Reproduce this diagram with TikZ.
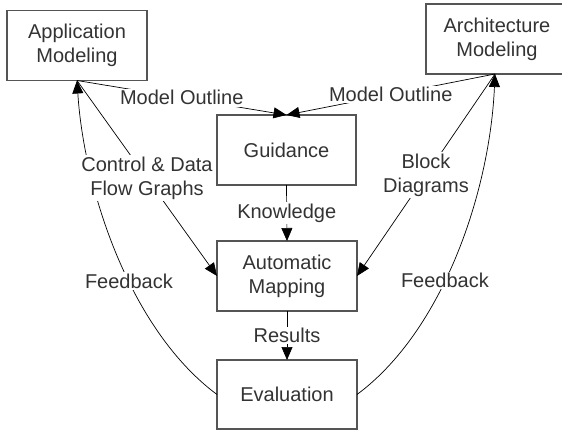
\documentclass[tikz,border=0pt]{standalone}
\usepackage{fontspec}
\setmainfont{Liberation Sans}
\usetikzlibrary{arrows.meta}
\definecolor{txt}{HTML}{333333}
\definecolor{boxline}{HTML}{555555}
\tikzset{
  box/.style={draw=boxline, line width=1.1pt, fill=white, text=txt, align=center,
    inner sep=0pt, outer sep=0pt, font=\fontsize{20}{24}\selectfont},
  lbl/.style={fill=white, text=txt, inner sep=1.5pt, align=center,
    font=\fontsize{20}{24}\selectfont},
  arr/.style={draw=black, line width=0.7pt, -{Triangle[length=13pt,width=11pt]}}
}
\begin{document}
\begin{tikzpicture}[x=1pt,y=-1pt]
\useasboundingbox (0,0) rectangle (562,430);
\node[box, minimum width=140pt, minimum height=70pt] (app) at (77,45.5) {Application\\Modeling};
\node[box, anchor=west, minimum width=142pt, minimum height=70pt, text width=138pt] (arch) at (426,39) {Architecture\\Modeling};
\coordinate (archbot) at (495,74);
\node[box, minimum width=139pt, minimum height=70pt] (guid) at (286.5,150) {Guidance};
\node[box, minimum width=140pt, minimum height=70pt] (map) at (287,276) {Automatic\\Mapping};
\node[box, minimum width=140pt, minimum height=69pt] (eval) at (287,394.5) {Evaluation};
% feedback curves
\draw[arr] (eval.west) .. controls (130,330) and (84,190) .. node[lbl, pos=0.42]{Feedback} (app.south);
\draw[arr] (eval.east) .. controls (444,330) and (490,190) .. node[lbl, pos=0.42]{Feedback} (archbot);
% straight connectors
\draw[arr] (app.south) -- node[lbl]{Model Outline} (guid.north);
\draw[arr] (archbot) -- node[lbl]{Model Outline} (guid.north);
\draw[arr] (app.south) -- node[lbl]{Control \& Data\\Flow Graphs} (map.west);
\draw[arr] (archbot) -- node[lbl]{Block\\Diagrams} (map.east);
\draw[arr] (guid.south) -- node[lbl]{Knowledge} (map.north);
\draw[arr] (map.south) -- node[lbl]{Results} (eval.north);
\end{tikzpicture}
\end{document}
